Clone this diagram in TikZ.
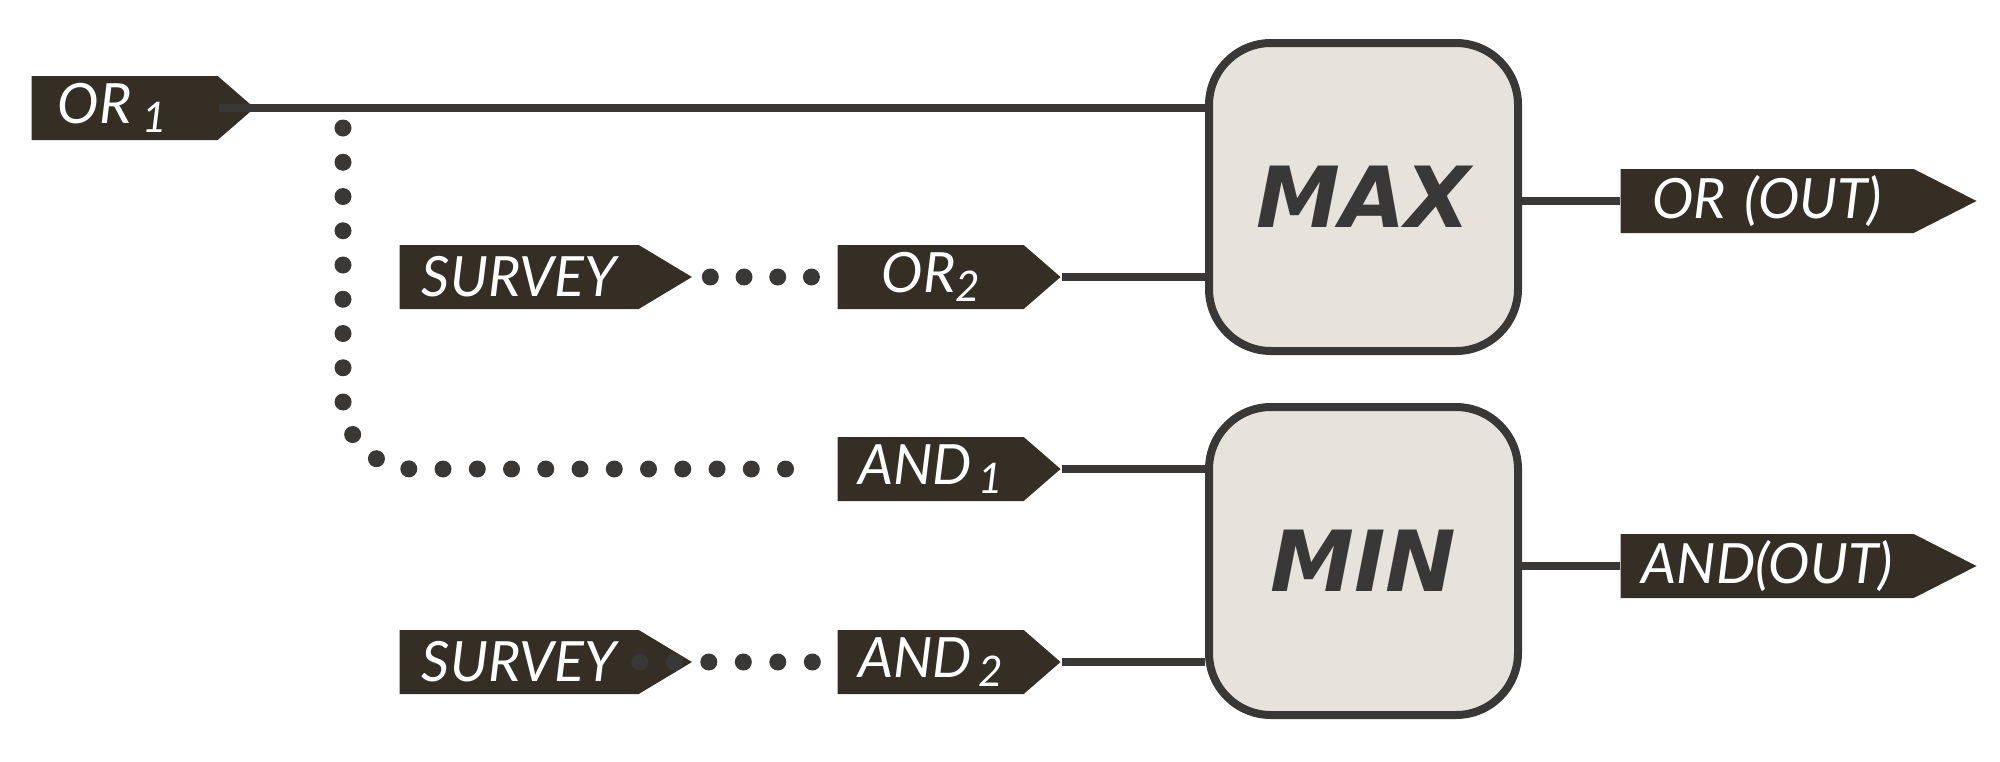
\documentclass[tikz,border=0pt]{standalone}
\usepackage{fontspec}
\setmainfont{Lato}
\newfontfamily\opfont{DejaVu Sans}
\usetikzlibrary{shapes.symbols}

\definecolor{tagbrown}{HTML}{352E25}
\definecolor{ink}{HTML}{3A3836}
\definecolor{boxfill}{HTML}{E8E2DC}
\newcommand{\idx}[1]{\raisebox{-2.5pt}{\fontsize{12}{14}\selectfont #1}}

\begin{document}
\begin{tikzpicture}[
  tag/.style={signal, signal to=east, signal from=nowhere, fill=tagbrown, text=white, anchor=west, minimum height=0.64cm, inner xsep=0.1cm, inner ysep=0pt, align=center, font=\fontsize{15.8}{18}\selectfont\itshape},
  intag/.style={tag, signal pointer angle=82, text width=1.66cm},
  srctag/.style={tag, signal pointer angle=62, text width=2.19cm},
  outtag/.style={tag, signal pointer angle=54, text width=2.73cm},
  op/.style={rectangle, draw=ink, line width=0.08cm, fill=boxfill, rounded corners=0.62cm, minimum width=3.09cm, minimum height=3.08cm, text=ink, font=\opfont\fontsize{24}{28}\selectfont\bfseries\itshape},
  wire/.style={draw=ink, line width=0.08cm},
  dotline/.style={draw=ink, line width=0.17cm, line cap=round, dash pattern=on 0pt off #1}
]
\useasboundingbox (0,0) rectangle (20,7.61);

% Inputs
\node[intag] (or1) at (0.31,6.53) {OR\hspace{3pt}\idx{1}\hspace*{0.25cm}};
\node[srctag] (survey1) at (3.99,4.84) {SURVEY};
\node[intag] (or2) at (8.37,4.84) {OR\idx{2}};
\node[intag] (and1) at (8.37,2.92) {AND\hspace{2pt}\idx{1}};
\node[srctag] (survey2) at (3.99,0.99) {SURVEY};
\node[intag] (and2) at (8.37,0.99) {AND\hspace{2pt}\idx{2}};

% Operators
\node[op] (max) at (13.635,5.64) {MAX};
\node[op] (min) at (13.635,2.00) {MIN};

% Outputs
\node[outtag] (orout) at (16.20,5.60) {OR (OUT)};
\node[outtag] (andout) at (16.20,1.95) {AND(OUT)};

% Wires
\draw[wire] ([xshift=-0.37cm]or1.east) -- (or1.east -| max.west);
\draw[wire] (or2.east) -- (or2.east -| max.west);
\draw[wire] (and1.east) -- (and1.east -| min.west);
\draw[wire] (and2.east) -- (and2.east -| min.west);
\draw[wire] (orout.west -| max.east) -- (orout.west);
\draw[wire] (andout.west -| min.east) -- (andout.west);

% Dotted links
\coordinate (split) at (3.43,6.33);
\draw[dotline=0.3425cm, rounded corners=0.7cm] (split) |- ([xshift=-0.47cm]and1.west);
\draw[dotline=0.337cm, shorten <=0.17cm, shorten >=0.24cm] (survey1.east) -- (or2.west);
\draw[dotline=0.345cm] ([xshift=-0.535cm]survey2.east) -- ([xshift=-0.23cm]and2.west);

\end{tikzpicture}
\end{document}
